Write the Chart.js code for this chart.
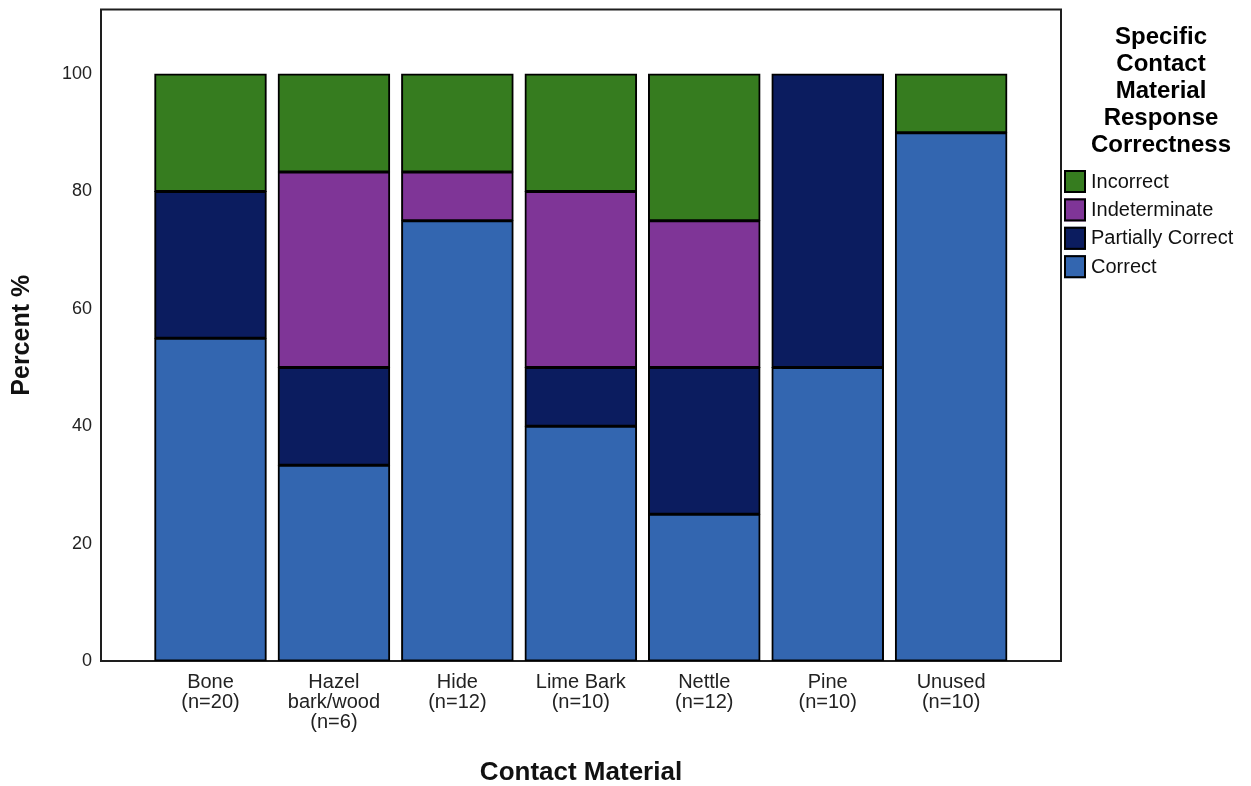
<!DOCTYPE html>
<html><head><meta charset="utf-8">
<script src="https://cdn.jsdelivr.net/npm/chart.js@4/dist/chart.umd.min.js"></script>
<style>html,body{margin:0;padding:0;background:#fff}#wrap{width:1251px;height:786px;position:relative}</style>
</head><body><div id="wrap"><canvas id="c"></canvas></div>
<script>
const categories = [["Bone","(n=20)"],["Hazel","bark/wood","(n=6)"],["Hide","(n=12)"],["Lime Bark","(n=10)"],["Nettle","(n=12)"],["Pine","(n=10)"],["Unused","(n=10)"]];
const correct          = [55, 33.33, 75, 40, 25, 50, 90];
const partiallyCorrect = [25, 16.67, null, 10, 25, 50, null];
const indeterminate    = [null, 33.33, 8.33, 30, 25, null, null];
const incorrect        = [20, 16.67, 16.67, 20, 25, null, 10];
const yTickValues = [0, 20, 40, 60, 80, 100];
const seriesNames = ["Correct", "Partially Correct", "Indeterminate", "Incorrect"];
const seriesColors = ["#3366b0", "#0b1c5f", "#7f3597", "#367c1f"];
const legendTitle = ["Specific", "Contact", "Material", "Response", "Correctness"];
const xAxisTitle = "Contact Material";
const yAxisTitle = "Percent %";

const FONT = '"Liberation Sans", Arial, sans-serif';
const seriesValues = [correct, partiallyCorrect, indeterminate, incorrect];

const datasets = seriesValues.map((vals, si) => ({
  label: seriesNames[si],
  data: vals.map((v, i) => ({x: i, y: v})),
  backgroundColor: seriesColors[si],
  borderColor: '#000',
  borderWidth: 2,
  borderSkipped: false,
  inflateAmount: 0.5,
  barPercentage: 0.904,
  categoryPercentage: 1.0
}));

const framePlugin = {
  id: 'frame',
  beforeDatasetsDraw(chart) {
    const a = chart.chartArea, ctx = chart.ctx;
    ctx.save();
    ctx.strokeStyle = '#1e1e1e';
    ctx.lineWidth = 2;
    ctx.strokeRect(a.left, a.top, a.right - a.left, a.bottom - a.top);
    ctx.restore();
  }
};

const legendPlugin = {
  id: 'customLegend',
  afterDraw(chart) {
    const ctx = chart.ctx, a = chart.chartArea;
    ctx.save();
    ctx.fillStyle = '#000';
    ctx.font = 'bold 24px ' + FONT;
    ctx.textAlign = 'center';
    ctx.textBaseline = 'middle';
    const cx = a.right + 100;
    legendTitle.forEach((t, i) => ctx.fillText(t, cx, 37 + i * 27));
    const order = chart.data.datasets.map((d, i) => i).reverse();
    ctx.font = '20px ' + FONT;
    ctx.textAlign = 'left';
    order.forEach((di, k) => {
      const ds = chart.data.datasets[di];
      const by = 170 + k * 28.4;
      const bx = a.right + 3;
      ctx.fillStyle = ds.backgroundColor;
      ctx.fillRect(bx, by, 22, 23);
      ctx.strokeStyle = '#000';
      ctx.lineWidth = 2;
      ctx.strokeRect(bx + 1, by + 1, 20, 21);
      ctx.fillStyle = '#111';
      ctx.fillText(ds.label, bx + 27, by + 12);
    });
    ctx.restore();
  }
};

new Chart(document.getElementById('c'), {
  type: 'bar',
  data: { datasets },
  options: {
    responsive: true,
    maintainAspectRatio: false,
    animation: false,
    layout: { padding: { top: 9.5, right: 190, left: 0, bottom: 0 } },
    plugins: { legend: { display: false }, tooltip: { enabled: false } },
    scales: {
      x: {
        type: 'linear',
        offset: false,
        stacked: true,
        min: -0.887,
        max: 6.89,
        grid: { display: false, drawTicks: false, offset: false },
        border: { display: false },
        afterBuildTicks: s => { s.ticks = categories.map((c, i) => ({ value: i })); },
        afterFit: s => { s.height = 125; s.paddingLeft = 0; s.paddingRight = 0; },
        ticks: {
          autoSkip: false, maxRotation: 0, padding: 12,
          color: '#222',
          font: { family: FONT, size: 20, lineHeight: 0.98 },
          callback: v => categories[v]
        },
        title: {
          display: true, text: xAxisTitle, color: '#111',
          font: { family: FONT, size: 26, weight: 'bold', lineHeight: 1.0 },
          padding: { top: 0, bottom: 0 }
        }
      },
      y: {
        stacked: true,
        min: 0,
        max: 111,
        grid: { display: false, drawTicks: false },
        border: { display: false },
        afterBuildTicks: s => { s.ticks = yTickValues.map(v => ({ value: v })); },
        afterFit: s => { s.width = 101; s.paddingTop = 0; s.paddingBottom = 0; },
        ticks: {
          padding: 9, color: '#222',
          font: { family: FONT, size: 18, lineHeight: 1.0 }
        },
        title: {
          display: true, text: yAxisTitle, color: '#111',
          font: { family: FONT, size: 25, weight: 'bold', lineHeight: 1.0 },
          padding: { top: 9.5, bottom: 0 }
        }
      }
    }
  },
  plugins: [framePlugin, legendPlugin]
});
</script>
</body></html>
